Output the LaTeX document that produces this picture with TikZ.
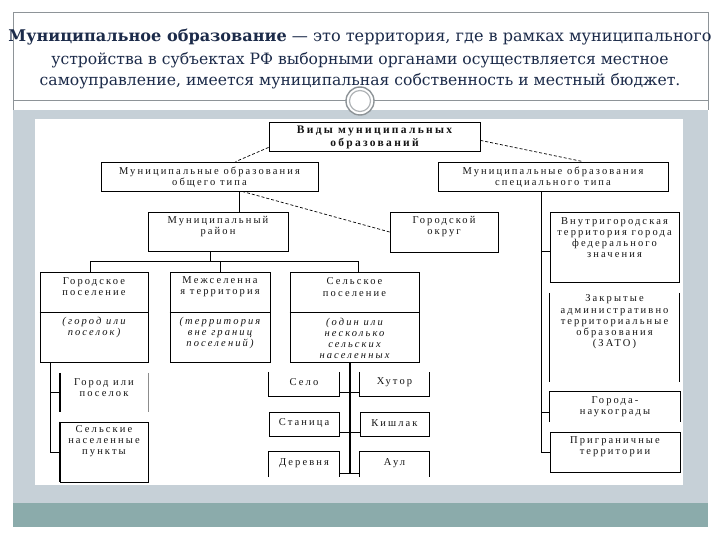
\documentclass[tikz,border=0pt]{standalone}
\usepackage{fontspec}
\setmainfont{Liberation Serif}
\newfontfamily\titlefont{DejaVu Serif}
\newfontfamily\scanfont[LetterSpace=20]{Liberation Serif}
\usetikzlibrary{fit,calc}
\definecolor{navy}{HTML}{1C2B4A}
\definecolor{bandgray}{HTML}{C6D0D7}
\definecolor{tealband}{HTML}{8BABAB}
\definecolor{framegray}{HTML}{8E9498}
\definecolor{scantext}{HTML}{141414}
\tikzset{
  titletext/.style={font=\titlefont\fontsize{15.6}{19}\selectfont, text=navy, inner sep=0pt, anchor=center},
  titlewide/.style={titletext, font=\titlefont\fontsize{16.1}{19}\selectfont},
  boxline/.style={draw=black, line width=0.8pt, inner sep=0pt},
  nobox/.style={inner sep=0pt},
  lbl/.style={font=\scanfont\fontsize{10.5}{11.2}\selectfont, text=scantext, align=center, inner sep=0pt},
  ilbl/.style={lbl, font=\scanfont\itshape\fontsize{10.5}{11.2}\selectfont},
  blbl/.style={lbl, font=\scanfont\bfseries\fontsize{11.5}{13}\selectfont},
  conn/.style={draw=black, line width=0.8pt},
  thickconn/.style={draw=black, line width=1.6pt},
  dashconn/.style={draw=black, line width=0.7pt, dash pattern=on 3pt off 2pt},
}
\begin{document}
\begin{tikzpicture}[x=1pt,y=-1pt]
\useasboundingbox (0,0) rectangle (720,540);
\fill[white] (0,0) rectangle (720,540);
% slide frame
\fill[bandgray] (13,110) rectangle (708,503);
\fill[white] (35,119) rectangle (683,485);
\fill[tealband] (13,503) rectangle (708,527);
\draw[framegray, line width=0.8pt] (13,110) -- (13,12) -- (708,12) -- (708,110);
\draw[framegray, line width=0.8pt] (13,100) -- (708,100);
\draw[framegray, line width=1.4pt, fill=white] (360,101) circle (14);
\draw[framegray!70, line width=1.2pt] (360,101) circle (10.5);
% title
\node[titlewide] (t1) at (360,37) {\textbf{Муниципальное образование} — это территория, где в рамках муниципального};
\node[titletext] (t2) at (360,60) {устройства в субъектах РФ выборными органами осуществляется местное};
\node[titletext] (t3) at (360,81) {самоуправление, имеется муниципальная собственность и местный бюджет.};
% closed boxes
\node[boxline, fit={(269,122)(480,151)}] (top) {};
\node[blbl] (topt) at (374.5,137) {Виды муниципальных\\образований};
\node[boxline, fit={(101,162)(318,191)}] (obsh) {};
\node[lbl] (obsht) at (209.5,177) {Муниципальные образования\\общего типа};
\node[boxline, fit={(438,162)(668,191)}] (spec) {};
\node[lbl] (spect) at (553,177) {Муниципальные образования\\специального типа};
\node[boxline, fit={(148,212)(288,251)}] (rayon) {};
\node[lbl] (rayont) at (218,226.5) {Муниципальный\\район};
\node[boxline, fit={(390,212)(498,252)}] (gorokrug) {};
\node[lbl] (gorokrugt) at (444,226.5) {Городской\\округ};
\node[boxline, fit={(550,212)(679,282)}] (vnutr) {};
\node[lbl] (vnutrt) at (614.5,237.5) {Внутригородская\\территория города\\федерального\\значения};
\node[boxline, fit={(550,432)(680,472)}] (prigran) {};
\node[lbl] (prigrant) at (615,447) {Приграничные\\территории};
% three-part boxes
\node[boxline, fit={(40,272)(148,362)}] (gorposel) {};
\draw[conn] (gorposel.west |- 0,312) -- (gorposel.east |- 0,312);
\node[lbl] (gorposelt) at (94,287) {Городское\\поселение};
\node[ilbl] (gorposeli) at (94,327.5) {(город или\\поселок)};
\node[boxline, fit={(170,272)(270,362)}] (mezhsel) {};
\draw[conn] (mezhsel.west |- 0,312) -- (mezhsel.east |- 0,312);
\node[lbl] (mezhselt) at (220,287) {Межселенна\\я территория};
\node[ilbl] (mezhseli) at (220,333) {(территория\\вне границ\\поселений)};
\node[boxline, fit={(290,272)(419,362)}] (selposel) {};
\draw[conn] (selposel.west |- 0,312) -- (selposel.east |- 0,312);
\node[lbl] (selposelt) at (354.5,287) {Сельское\\поселение};
\node[ilbl] (selposeli) at (354.5,338.5) {(один или\\несколько\\сельских\\населенных};
% open boxes
\node[nobox, fit={(550,293)(679,382)}] (zato) {};
\draw[conn] (zato.north west) -- (zato.south west);
\draw[conn] (zato.north east) -- (zato.south east);
\node[lbl] (zatot) at (614.5,322) {Закрытые\\административно\\территориальные\\образования\\(ЗАТО)};
\node[nobox, fit={(550,392)(680,422)}] (naukograd) {};
\draw[conn] (naukograd.south west) -- (naukograd.north west) -- (naukograd.north east) -- (naukograd.south east);
\node[lbl] (naukogradt) at (615,407) {Города-\\наукограды};
\node[nobox, fit={(60,373)(148,412)}] (gorod) {};
\draw[thickconn] (gorod.north west) -- (gorod.south west);
\draw[conn, draw=black!45] (gorod.north east) -- (gorod.south east);
\node[lbl] (gorodt) at (104,387.5) {Город или\\поселок};
\node[boxline, fit={(60,422)(148,482)}] (selnp) {};
\draw[thickconn] (selnp.north west) -- (selnp.south west);
\node[lbl] (selnpt) at (104,441) {Сельские\\населенные\\пункты};
\node[nobox, fit={(269,372)(339,396)}] (selo) {};
\draw[conn] (selo.north west) -- (selo.south west) -- (selo.south east) -- (selo.north east);
\node[lbl] (selot) at (304,382) {Село};
\node[nobox, fit={(360,372)(429,396)}] (hutor) {};
\draw[conn] (hutor.north west) -- (hutor.south west) -- (hutor.south east) -- (hutor.north east);
\node[lbl] (hutort) at (394.5,382) {Хутор};
\node[boxline, fit={(269,412)(339,436)}] (stanitsa) {};
\node[lbl] (stanitsat) at (304,423) {Станица};
\node[boxline, fit={(360,412)(429,436)}] (kishlak) {};
\node[lbl] (kishlakt) at (394.5,423) {Кишлак};
\node[nobox, fit={(269,452)(339,477)}] (derevnya) {};
\draw[conn] (derevnya.south west) -- (derevnya.north west) -- (derevnya.north east) -- (derevnya.south east);
\node[lbl] (derevnyat) at (304,463) {Деревня};
\node[nobox, fit={(360,452)(429,477)}] (aul) {};
\draw[conn] (aul.south west) -- (aul.north west) -- (aul.north east) -- (aul.south east);
\node[lbl] (ault) at (394.5,463) {Аул};
% dashed connectors
\draw[dashconn] ($(top.south west)+(0,-4)$) -- ($(obsh.north west)!0.62!(obsh.north east)$);
\draw[dashconn] ($(top.south east)+(0,-11)$) -- ($(spec.north west)!0.63!(spec.north east)$);
\draw[dashconn] ($(obsh.south west)!0.65!(obsh.south east)$) -- (gorokrug.west);
% solid connectors
\coordinate (ob) at ($(obsh.south west)!0.635!(obsh.south east)$);
\draw[conn] (ob) -- (ob |- rayon.north);
\coordinate (rb) at ($(rayon.south)+(-8,0)$);
\coordinate (busL) at ($(gorposel.north)+(-4,-10)$);
\coordinate (busR) at ($(selposel.north)+(4,-10)$);
\draw[conn] (rb) -- (rb |- busL);
\draw[conn] (busL) -- (busR);
\draw[conn] (busL) -- (busL |- gorposel.north);
\draw[conn] (busR) -- (busR |- selposel.north);
\draw[conn] (mezhsel.north) -- (mezhsel.north |- busL);
% special trunk
\coordinate (sp) at ($(spec.south west)!0.448!(spec.south east)$);
\draw[conn] (sp) -- (sp |- prigran.west) -- (prigran.west);
\draw[conn] (sp |- 0,251) -- ($(vnutr.west)+(0,4)$);
\draw[conn] (sp |- 0,412) -- (naukograd.west |- 0,412);
% gorodskoe trunk
\coordinate (gp) at ($(gorposel.south west)+(11,0)$);
\draw[conn] (gp) -- (gp |- selnp.west) -- (selnp.west);
\draw[conn] (gp |- gorod.west) -- (gorod.west);
% selskoe trunk
\coordinate (sl) at ($(selposel.south)+(-4.5,0)$);
\draw[thickconn] (sl) -- (sl |- 0,474);
\draw[conn] ($(selo.south east)+(0,-4)$) -- ($(hutor.south west)+(0,-4)$);
\draw[conn] ($(stanitsa.south east)+(0,-4)$) -- ($(kishlak.south west)+(0,-4)$);
\draw[conn] ($(derevnya.south east)+(0,-4)$) -- ($(aul.south west)+(0,-4)$);
\end{tikzpicture}
\end{document}
